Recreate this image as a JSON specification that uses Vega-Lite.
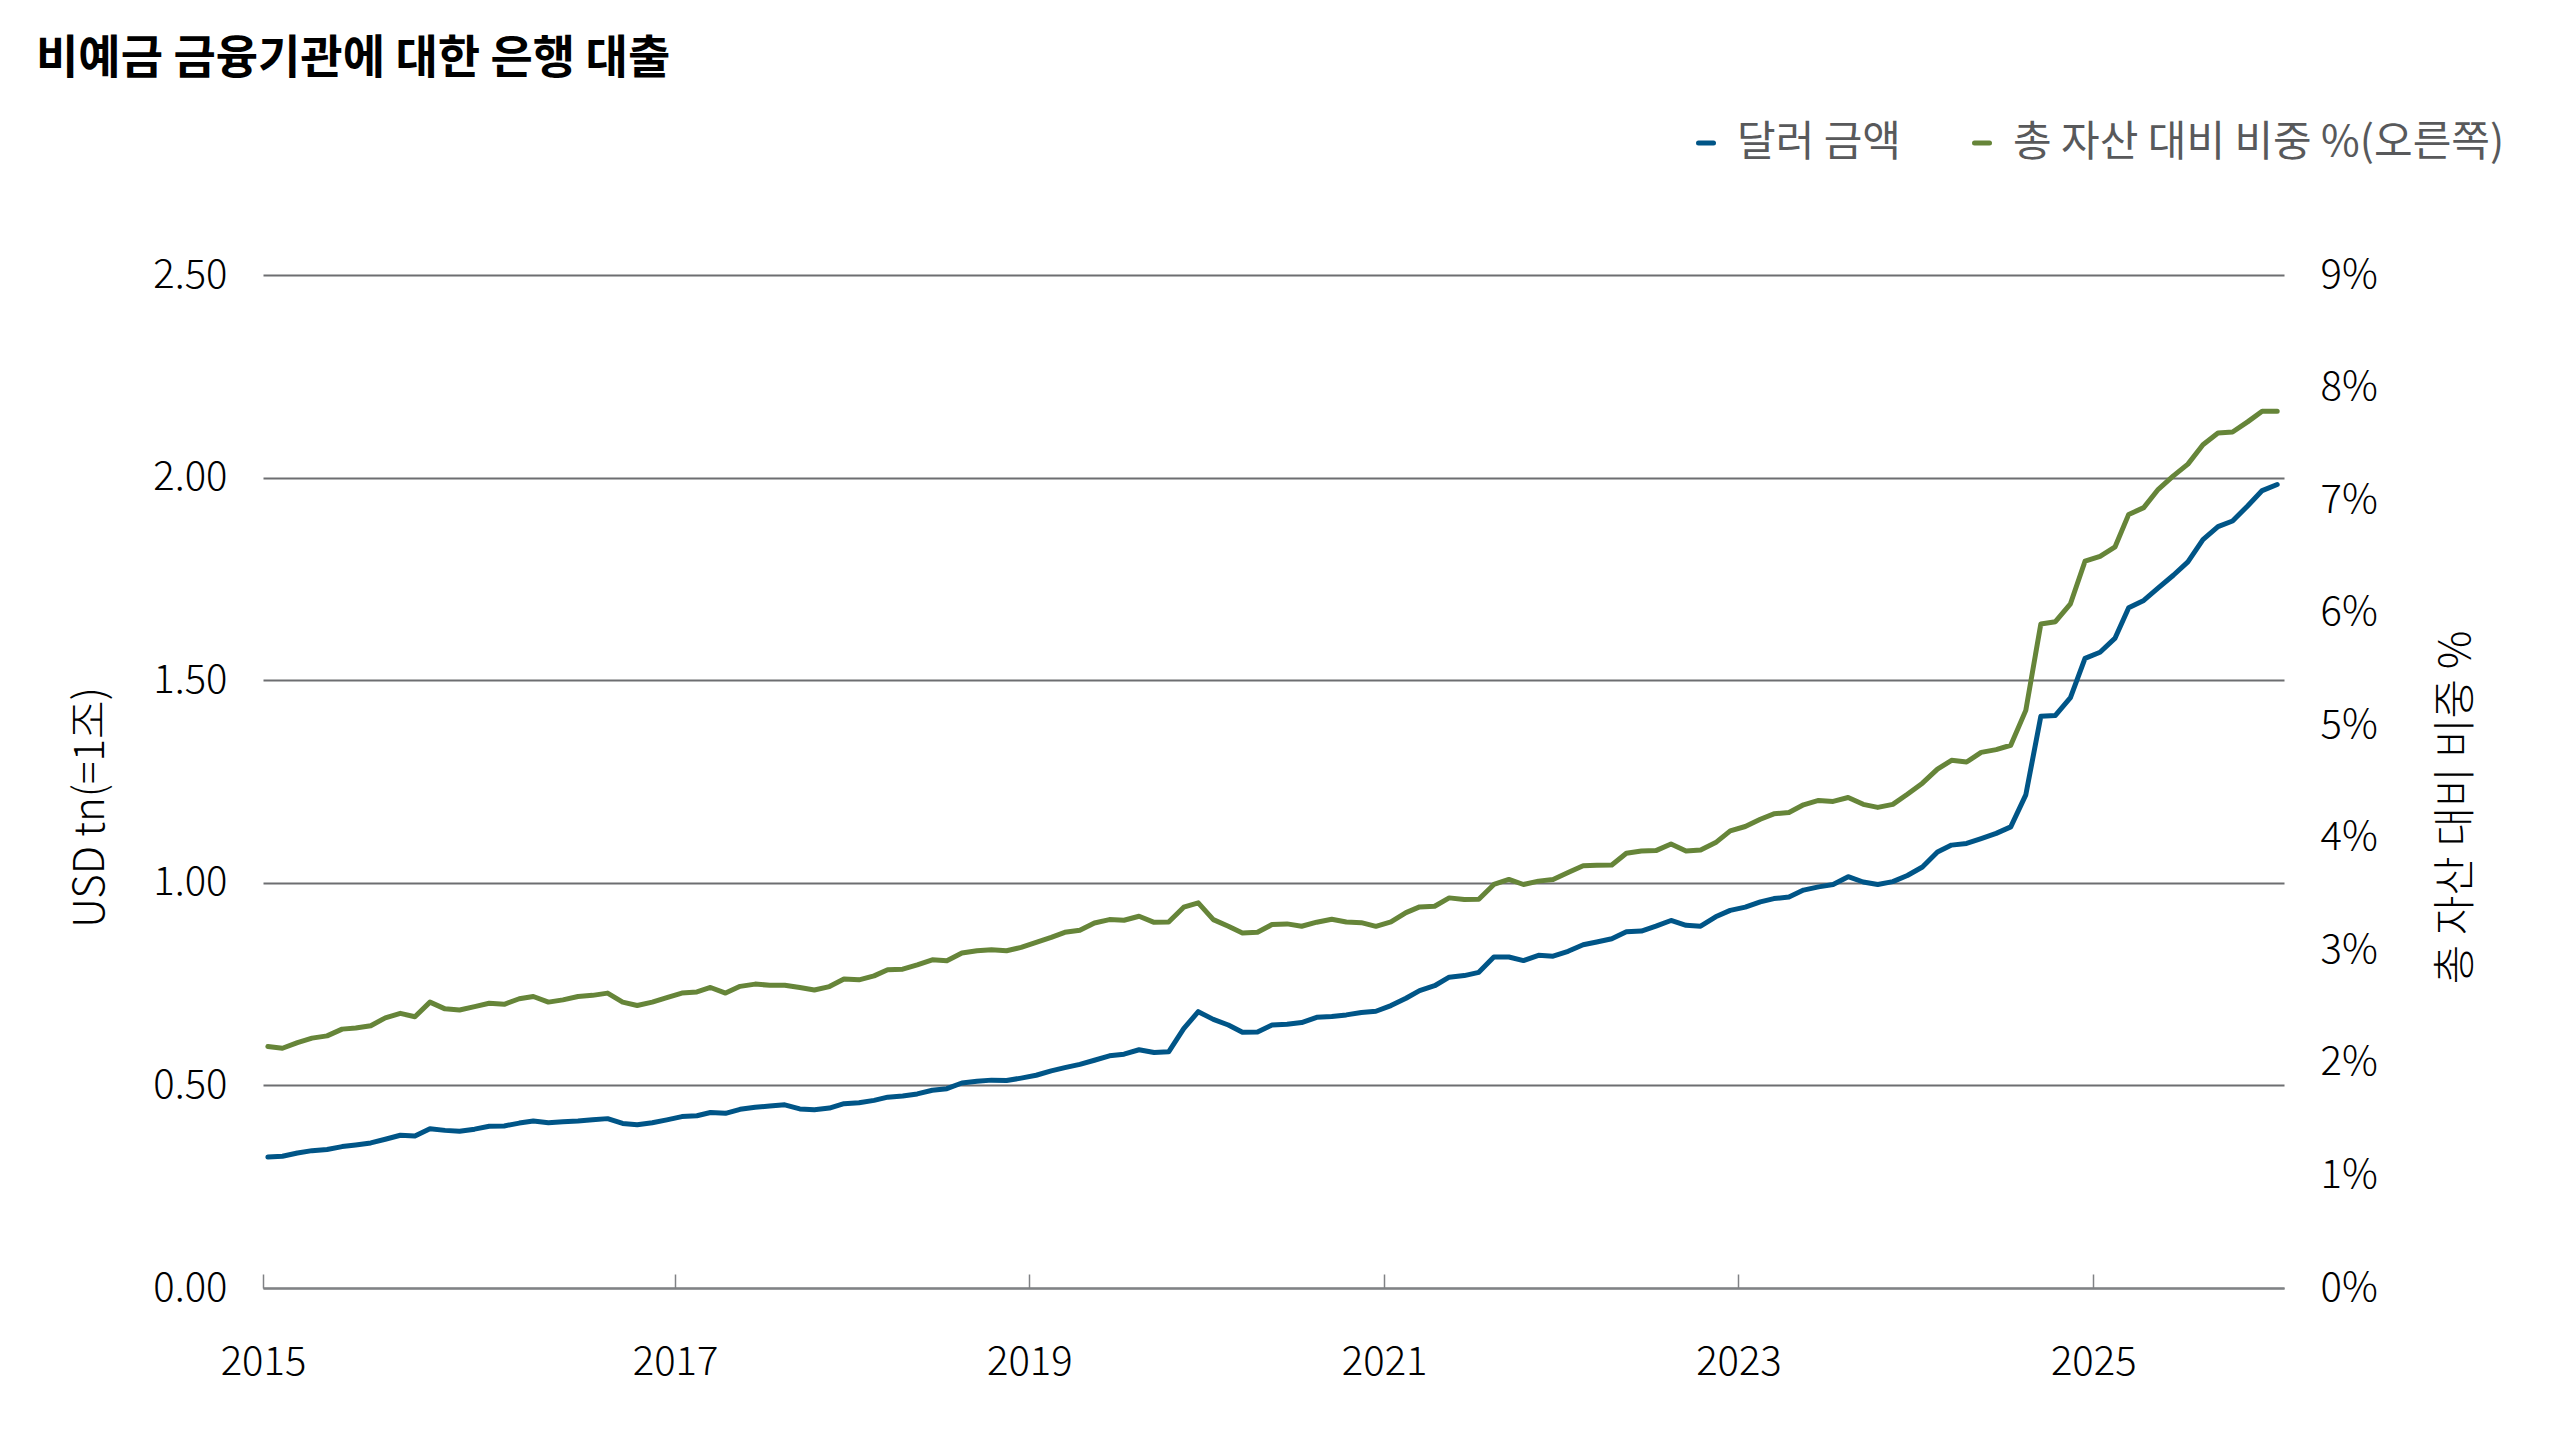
{
  "$schema": "https://vega.github.io/schema/vega-lite/v6.json",
  "width": 2021,
  "height": 1013,
  "autosize": {"type": "none"},
  "padding": {"left": 263, "top": 275, "right": 276, "bottom": 152},
  "background": "white",
  "config": {
    "font": "Noto Sans CJK KR",
    "view": {"stroke": null},
    "axis": {"labelFont": "Noto Sans CJK KR", "titleFont": "Noto Sans CJK KR"}
  },
  "title": {
    "text": "비예금 금융기관에 대한 은행 대출",
    "anchor": "start",
    "frame": "group",
    "fontSize": 46,
    "fontWeight": "bold",
    "color": "#000000",
    "offset": 0,
    "dx": -227,
    "dy": -39
  },
  "data": {
    "values": [
      {"date": "2014-09-15", "usd": 0.323, "pct": 2.145},
      {"date": "2014-10-15", "usd": 0.325, "pct": 2.13},
      {"date": "2014-11-15", "usd": 0.333, "pct": 2.18},
      {"date": "2014-12-15", "usd": 0.339, "pct": 2.22},
      {"date": "2015-01-15", "usd": 0.342, "pct": 2.24},
      {"date": "2015-02-15", "usd": 0.349, "pct": 2.30},
      {"date": "2015-03-15", "usd": 0.353, "pct": 2.31},
      {"date": "2015-04-15", "usd": 0.358, "pct": 2.33},
      {"date": "2015-05-15", "usd": 0.367, "pct": 2.40},
      {"date": "2015-06-15", "usd": 0.377, "pct": 2.44},
      {"date": "2015-07-15", "usd": 0.375, "pct": 2.41},
      {"date": "2015-08-15", "usd": 0.393, "pct": 2.54},
      {"date": "2015-09-15", "usd": 0.389, "pct": 2.48},
      {"date": "2015-10-15", "usd": 0.387, "pct": 2.47},
      {"date": "2015-11-15", "usd": 0.392, "pct": 2.50},
      {"date": "2015-12-15", "usd": 0.399, "pct": 2.53},
      {"date": "2016-01-15", "usd": 0.400, "pct": 2.52},
      {"date": "2016-02-15", "usd": 0.407, "pct": 2.57},
      {"date": "2016-03-15", "usd": 0.412, "pct": 2.59},
      {"date": "2016-04-15", "usd": 0.408, "pct": 2.54},
      {"date": "2016-05-15", "usd": 0.410, "pct": 2.56},
      {"date": "2016-06-15", "usd": 0.412, "pct": 2.59},
      {"date": "2016-07-15", "usd": 0.415, "pct": 2.60},
      {"date": "2016-08-15", "usd": 0.418, "pct": 2.62},
      {"date": "2016-09-15", "usd": 0.406, "pct": 2.54},
      {"date": "2016-10-15", "usd": 0.403, "pct": 2.51},
      {"date": "2016-11-15", "usd": 0.408, "pct": 2.54},
      {"date": "2016-12-15", "usd": 0.415, "pct": 2.58},
      {"date": "2017-01-15", "usd": 0.423, "pct": 2.62},
      {"date": "2017-02-15", "usd": 0.425, "pct": 2.63},
      {"date": "2017-03-15", "usd": 0.433, "pct": 2.67},
      {"date": "2017-04-15", "usd": 0.431, "pct": 2.62},
      {"date": "2017-05-15", "usd": 0.441, "pct": 2.68},
      {"date": "2017-06-15", "usd": 0.446, "pct": 2.70},
      {"date": "2017-07-15", "usd": 0.449, "pct": 2.69},
      {"date": "2017-08-15", "usd": 0.452, "pct": 2.69},
      {"date": "2017-09-15", "usd": 0.442, "pct": 2.669},
      {"date": "2017-10-15", "usd": 0.440, "pct": 2.648},
      {"date": "2017-11-15", "usd": 0.444, "pct": 2.678},
      {"date": "2017-12-15", "usd": 0.455, "pct": 2.746},
      {"date": "2018-01-15", "usd": 0.457, "pct": 2.738},
      {"date": "2018-02-15", "usd": 0.463, "pct": 2.773},
      {"date": "2018-03-15", "usd": 0.471, "pct": 2.827},
      {"date": "2018-04-15", "usd": 0.474, "pct": 2.833},
      {"date": "2018-05-15", "usd": 0.479, "pct": 2.871},
      {"date": "2018-06-15", "usd": 0.488, "pct": 2.916},
      {"date": "2018-07-15", "usd": 0.492, "pct": 2.907},
      {"date": "2018-08-15", "usd": 0.506, "pct": 2.976},
      {"date": "2018-09-15", "usd": 0.510, "pct": 2.996},
      {"date": "2018-10-15", "usd": 0.513, "pct": 3.005},
      {"date": "2018-11-15", "usd": 0.512, "pct": 2.996},
      {"date": "2018-12-15", "usd": 0.518, "pct": 3.026},
      {"date": "2019-01-15", "usd": 0.525, "pct": 3.071},
      {"date": "2019-02-15", "usd": 0.536, "pct": 3.115},
      {"date": "2019-03-15", "usd": 0.544, "pct": 3.160},
      {"date": "2019-04-15", "usd": 0.552, "pct": 3.178},
      {"date": "2019-05-15", "usd": 0.562, "pct": 3.243},
      {"date": "2019-06-15", "usd": 0.573, "pct": 3.273},
      {"date": "2019-07-15", "usd": 0.577, "pct": 3.267},
      {"date": "2019-08-15", "usd": 0.588, "pct": 3.303},
      {"date": "2019-09-15", "usd": 0.581, "pct": 3.249},
      {"date": "2019-10-15", "usd": 0.583, "pct": 3.252},
      {"date": "2019-11-15", "usd": 0.640, "pct": 3.383},
      {"date": "2019-12-15", "usd": 0.682, "pct": 3.422},
      {"date": "2020-01-15", "usd": 0.663, "pct": 3.273},
      {"date": "2020-02-15", "usd": 0.649, "pct": 3.214},
      {"date": "2020-03-15", "usd": 0.631, "pct": 3.154},
      {"date": "2020-04-15", "usd": 0.632, "pct": 3.160},
      {"date": "2020-05-15", "usd": 0.649, "pct": 3.229},
      {"date": "2020-06-15", "usd": 0.651, "pct": 3.235},
      {"date": "2020-07-15", "usd": 0.655, "pct": 3.214},
      {"date": "2020-08-15", "usd": 0.668, "pct": 3.25},
      {"date": "2020-09-15", "usd": 0.670, "pct": 3.276},
      {"date": "2020-10-15", "usd": 0.674, "pct": 3.252},
      {"date": "2020-11-15", "usd": 0.680, "pct": 3.246},
      {"date": "2020-12-15", "usd": 0.683, "pct": 3.213},
      {"date": "2021-01-15", "usd": 0.697, "pct": 3.252},
      {"date": "2021-02-15", "usd": 0.715, "pct": 3.335},
      {"date": "2021-03-15", "usd": 0.734, "pct": 3.386},
      {"date": "2021-04-15", "usd": 0.746, "pct": 3.392},
      {"date": "2021-05-15", "usd": 0.767, "pct": 3.466},
      {"date": "2021-06-15", "usd": 0.771, "pct": 3.451},
      {"date": "2021-07-15", "usd": 0.779, "pct": 3.454},
      {"date": "2021-08-15", "usd": 0.817, "pct": 3.585},
      {"date": "2021-09-15", "usd": 0.817, "pct": 3.630},
      {"date": "2021-10-15", "usd": 0.808, "pct": 3.585},
      {"date": "2021-11-15", "usd": 0.821, "pct": 3.615},
      {"date": "2021-12-15", "usd": 0.819, "pct": 3.630},
      {"date": "2022-01-15", "usd": 0.831, "pct": 3.692},
      {"date": "2022-02-15", "usd": 0.847, "pct": 3.752},
      {"date": "2022-03-15", "usd": 0.854, "pct": 3.755},
      {"date": "2022-04-15", "usd": 0.862, "pct": 3.758},
      {"date": "2022-05-15", "usd": 0.879, "pct": 3.862},
      {"date": "2022-06-15", "usd": 0.881, "pct": 3.883},
      {"date": "2022-07-15", "usd": 0.893, "pct": 3.886},
      {"date": "2022-08-15", "usd": 0.907, "pct": 3.945},
      {"date": "2022-09-15", "usd": 0.895, "pct": 3.883},
      {"date": "2022-10-15", "usd": 0.893, "pct": 3.892},
      {"date": "2022-11-15", "usd": 0.916, "pct": 3.957},
      {"date": "2022-12-15", "usd": 0.932, "pct": 4.061},
      {"date": "2023-01-15", "usd": 0.940, "pct": 4.100},
      {"date": "2023-02-15", "usd": 0.953, "pct": 4.165},
      {"date": "2023-03-15", "usd": 0.961, "pct": 4.213},
      {"date": "2023-04-15", "usd": 0.965, "pct": 4.225},
      {"date": "2023-05-15", "usd": 0.982, "pct": 4.293},
      {"date": "2023-06-15", "usd": 0.990, "pct": 4.332},
      {"date": "2023-07-15", "usd": 0.996, "pct": 4.323},
      {"date": "2023-08-15", "usd": 1.015, "pct": 4.358},
      {"date": "2023-09-15", "usd": 1.002, "pct": 4.297},
      {"date": "2023-10-15", "usd": 0.996, "pct": 4.270},
      {"date": "2023-11-15", "usd": 1.003, "pct": 4.297},
      {"date": "2023-12-15", "usd": 1.018, "pct": 4.387},
      {"date": "2024-01-15", "usd": 1.039, "pct": 4.485},
      {"date": "2024-02-15", "usd": 1.076, "pct": 4.610},
      {"date": "2024-03-15", "usd": 1.093, "pct": 4.688},
      {"date": "2024-04-15", "usd": 1.097, "pct": 4.673},
      {"date": "2024-05-15", "usd": 1.109, "pct": 4.759},
      {"date": "2024-06-15", "usd": 1.122, "pct": 4.783},
      {"date": "2024-07-15", "usd": 1.138, "pct": 4.822},
      {"date": "2024-08-15", "usd": 1.217, "pct": 5.132},
      {"date": "2024-09-15", "usd": 1.411, "pct": 5.90},
      {"date": "2024-10-15", "usd": 1.413, "pct": 5.92},
      {"date": "2024-11-15", "usd": 1.457, "pct": 6.079},
      {"date": "2024-12-15", "usd": 1.554, "pct": 6.457},
      {"date": "2025-01-15", "usd": 1.569, "pct": 6.501},
      {"date": "2025-02-15", "usd": 1.604, "pct": 6.585},
      {"date": "2025-03-15", "usd": 1.679, "pct": 6.873},
      {"date": "2025-04-15", "usd": 1.697, "pct": 6.933},
      {"date": "2025-05-15", "usd": 1.728, "pct": 7.096},
      {"date": "2025-06-15", "usd": 1.759, "pct": 7.215},
      {"date": "2025-07-15", "usd": 1.792, "pct": 7.320},
      {"date": "2025-08-15", "usd": 1.847, "pct": 7.492},
      {"date": "2025-09-15", "usd": 1.879, "pct": 7.596},
      {"date": "2025-10-15", "usd": 1.893, "pct": 7.605},
      {"date": "2025-11-15", "usd": 1.930, "pct": 7.695},
      {"date": "2025-12-15", "usd": 1.968, "pct": 7.790},
      {"date": "2026-01-15", "usd": 1.983, "pct": 7.790}
    ]
  },
  "layer": [
    {
      "mark": {"type": "line", "strokeWidth": 5, "strokeCap": "round", "strokeJoin": "round"},
      "encoding": {
        "x": {
          "field": "date",
          "type": "temporal",
          "scale": {"domain": [{"year": 2014, "month": 9, "date": 5}, {"year": 2026, "month": 1, "date": 29}]},
          "axis": {
            "title": null,
            "values": [
              {"year": 2014, "month": 9, "date": 5},
              {"year": 2017, "month": 1, "date": 1},
              {"year": 2019, "month": 1, "date": 1},
              {"year": 2021, "month": 1, "date": 1},
              {"year": 2023, "month": 1, "date": 1},
              {"year": 2025, "month": 1, "date": 1}
            ],
            "labelExpr": "year(datum.value) == 2014 ? '2015' : timeFormat(datum.value, '%Y')",
            "grid": false,
            "domain": true,
            "domainColor": "#808285",
            "domainWidth": 2,
            "ticks": true,
            "tickSize": -14,
            "tickColor": "#808285",
            "tickWidth": 1.5,
            "labelPadding": 68,
            "labelFontSize": 40,
            "labelFontWeight": 300,
            "labelColor": "#000000",
            "labelFlush": false,
            "labelOverlap": false
          }
        },
        "y": {
          "field": "usd",
          "type": "quantitative",
          "scale": {"domain": [0, 2.5], "nice": false, "zero": true},
          "axis": {
            "title": "USD tn(=1조)",
            "values": [0, 0.5, 1, 1.5, 2, 2.5],
            "format": ".2f",
            "grid": true,
            "gridColor": "#6d6e71",
            "gridWidth": 2,
            "domain": false,
            "ticks": false,
            "labelPadding": 36,
            "labelFontSize": 40,
            "labelFontWeight": 300,
            "labelColor": "#000000",
            "titleFontSize": 42,
            "titleFontWeight": 300,
            "titleColor": "#000000",
            "titleAngle": 270,
            "titleAlign": "center",
            "titleBaseline": "middle",
            "titleX": -173,
            "titleY": 532
          }
        },
        "color": {
          "datum": "달러 금액",
          "type": "nominal",
          "scale": {"domain": ["달러 금액", "총 자산 대비 비중 %(오른쪽)"], "range": ["#005587", "#668539"]},
          "legend": {
            "orient": "none",
            "legendX": 1422,
            "legendY": -153,
            "direction": "horizontal",
            "title": null,
            "padding": 0,
            "symbolType": "stroke",
            "symbolSize": 225,
            "symbolStrokeWidth": 5,
            "labelFontSize": 42,
            "labelColor": "#58595b",
            "labelOffset": 10,
            "columnPadding": 60,
            "labelLimit": 1000,
            "encode": {"symbols": {"update": {"strokeCap": {"value": "round"}}}}
          }
        }
      }
    },
    {
      "mark": {"type": "line", "strokeWidth": 5, "strokeCap": "round", "strokeJoin": "round"},
      "encoding": {
        "x": {"field": "date", "type": "temporal"},
        "y": {
          "field": "pct",
          "type": "quantitative",
          "scale": {"domain": [0, 9], "nice": false, "zero": true},
          "axis": {
            "orient": "right",
            "title": "총 자산 대비 비중 %",
            "values": [0, 1, 2, 3, 4, 5, 6, 7, 8, 9],
            "labelExpr": "datum.value + '%'",
            "grid": false,
            "domain": false,
            "ticks": false,
            "labelPadding": 36,
            "labelFontSize": 40,
            "labelFontWeight": 300,
            "labelColor": "#000000",
            "titleFontSize": 43,
            "titleFontWeight": 300,
            "titleColor": "#000000",
            "titleAngle": 270,
            "titleAlign": "center",
            "titleBaseline": "middle",
            "titleX": 172,
            "titleY": 532
          }
        },
        "color": {"datum": "총 자산 대비 비중 %(오른쪽)", "type": "nominal"}
      }
    }
  ],
  "resolve": {"scale": {"y": "independent"}}
}
